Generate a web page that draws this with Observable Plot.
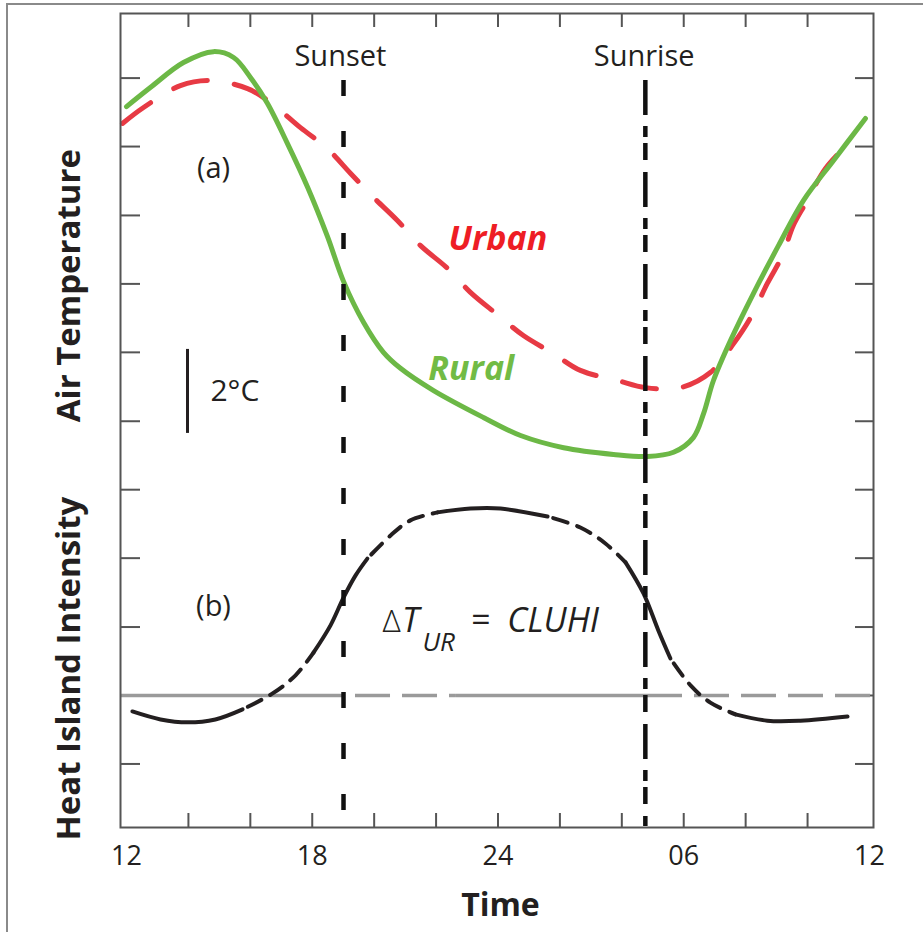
<!DOCTYPE html>
<html><head><meta charset="utf-8">
<script src="https://cdn.jsdelivr.net/npm/d3@7"></script>
<script src="https://cdn.jsdelivr.net/npm/@observablehq/plot@0.6"></script>
<style>
body{margin:0;background:#fff;}
#wrap{position:relative;width:923px;height:932px;overflow:hidden;background:#fff;}
#chart svg{display:block;}
#border{position:absolute;left:6px;top:3px;width:2000px;height:2000px;border-left:2px solid #8a8a8a;border-top:2px solid #8a8a8a;pointer-events:none;}
</style></head>
<body><div id="wrap"><div id="chart"></div><div id="border"></div></div>
<script>
// ---- Data (x: hour of day, continuing past midnight; y: °C, heat-island zero at baseline) ----
const ruralHours = [12.0,12.78,13.84,14.81,15.46,16.01,16.55,17.20,17.85,18.49,19.01,19.66,20.30,20.85,21.92,23.53,24.73,26.12,27.73,28.83,29.67,30.31,30.64,30.96,31.51,32.25,33.06,33.87,34.84,35.87];
const ruralTemp  = [14.02,14.48,15.07,15.33,15.19,14.71,14.10,13.14,12.10,10.93,9.86,8.88,8.17,7.79,7.26,6.62,6.19,5.90,5.74,5.69,5.79,6.14,6.71,7.5,8.45,9.57,10.71,11.79,12.74,13.74];

const urbanHours = [11.87,12.55,13.74,14.71,15.91,16.65,17.62,18.49,19.24,19.98,20.75,21.50,22.37,23.11,23.98,24.82,25.79,26.66,27.86,28.76,29.89,30.86,31.61,32.16,32.70,33.19,33.54,33.93,34.58,35.26];
const urbanTemp  = [13.62,14.0,14.52,14.64,14.45,14.12,13.52,13.02,12.43,11.86,11.31,10.71,10.17,9.60,9.07,8.57,8.14,7.74,7.5,7.33,7.33,7.69,8.38,9.0,9.81,10.48,11.19,11.71,12.55,13.1];

const uhiHours = [12.19,13.10,13.97,14.87,15.75,16.72,17.46,18.04,18.59,19.01,19.40,19.78,20.53,21.17,22.05,23.11,24.08,25.60,26.66,27.47,28.12,28.70,29.18,29.57,30.22,30.86,31.67,32.70,33.77,35.29];
const uhiValue = [-0.38,-0.57,-0.64,-0.57,-0.33,0.05,0.48,1.02,1.67,2.33,2.86,3.26,3.81,4.17,4.36,4.45,4.45,4.26,4.0,3.62,3.17,2.43,1.55,0.88,0.24,-0.17,-0.45,-0.60,-0.60,-0.50];
// segments of the UHI curve: solid / dashed pieces
const uhiSegFrom   = [12.19,15.75,18.04,19.78,22.05,25.60,28.12,29.57,31.67];
const uhiSegTo     = [15.75,18.04,19.78,22.05,25.60,28.12,29.57,31.67,35.29];
const uhiSegDashed = [false,true,false,true,false,true,false,true,false];

// zero line segments
const zeroFrom   = [11.806,19.01,22.63,29.96];
const zeroTo     = [19.01,22.63,29.96,36.13];
const zeroDashed = [false,true,false,true];

const eventNames = ["Sunset","Sunrise"];
const eventHours = [19.01,28.76];

const xTickHours  = [14,16,18,20,22,24,26,28,30,32,34];
const xLabelHours = [12,18,24,30,36];
const xLabelTexts = ["12","18","24","06","12"];
const yTicks = [-1.63,0,1.63,3.27,4.9,6.53,8.17,9.8,11.43,13.07,14.7];

const xDomain = [11.806,36.13];
const yDomain = [-3.143,16.238];

// annotation placements (data coordinates)
const scaleBar = [{hour:13.97, low:6.24, high:8.24}];
const notes = [
  {text:"Sunset",  hour:18.91, value:14.98},
  {text:"Sunrise", hour:28.72, value:14.98},
  {text:"(a)",     hour:14.81, value:12.31},
  {text:"(b)",     hour:14.81, value:1.90}
];

// ---- Build tables ----
const rural = ruralHours.map((h,i)=>({hour:h, temp:ruralTemp[i]}));
const urban = urbanHours.map((h,i)=>({hour:h, temp:urbanTemp[i]}));
const uhiPts = [];
uhiSegFrom.forEach((f,s)=>{
  uhiHours.forEach((h,i)=>{
    if (h>=f-1e-9 && h<=uhiSegTo[s]+1e-9) uhiPts.push({hour:h, value:uhiValue[i], seg:s, dashed:uhiSegDashed[s]});
  });
});
const zeroSegs = zeroFrom.map((f,i)=>({x1:f, x2:zeroTo[i], dashed:zeroDashed[i]}));

const W=923, H=932, mL=120, mR=50, mT=13, mB=105;
const plotW = W-mL-mR, plotH = H-mT-mB;
const ink = "#231f20", tickColor = "#555";
const green = "#6cb846", red = "#e73a44";

const chart = Plot.plot({
  width:W, height:H, marginLeft:mL, marginRight:mR, marginTop:mT, marginBottom:mB,
  x:{domain:xDomain, axis:null},
  y:{domain:yDomain, axis:null},
  style:{fontFamily:"'Open Sans', sans-serif", background:"#fff", overflow:"visible", color:ink},
  marks:[
    // ticks (inward)
    Plot.ruleX(xTickHours, {x:d=>d, insetTop:plotH-14, stroke:tickColor, strokeWidth:2}),
    Plot.ruleX(xTickHours, {x:d=>d, insetBottom:plotH-14, stroke:tickColor, strokeWidth:2}),
    Plot.ruleY(yTicks, {y:d=>d, insetRight:plotW-20, stroke:tickColor, strokeWidth:2}),
    Plot.ruleY(yTicks, {y:d=>d, insetLeft:plotW-18, stroke:tickColor, strokeWidth:2}),
    // zero line
    Plot.ruleY(zeroSegs.filter(d=>!d.dashed), {y:0, x1:"x1", x2:"x2", stroke:"#9a9a9a", strokeWidth:3.5}),
    Plot.ruleY(zeroSegs.filter(d=>d.dashed), {y:0, x1:"x1", x2:"x2", stroke:"#9a9a9a", strokeWidth:3.5, strokeDasharray:"35,12", strokeDashoffset:35}),
    // heat island intensity curve
    Plot.line(uhiPts.filter(d=>!d.dashed), {x:"hour", y:"value", z:"seg", curve:"catmull-rom", stroke:ink, strokeWidth:4}),
    Plot.line(uhiPts.filter(d=>d.dashed), {x:"hour", y:"value", z:"seg", curve:"catmull-rom", stroke:ink, strokeWidth:4, strokeDasharray:"15,10", strokeDashoffset:19}),
    // urban & rural
    Plot.line(urban, {x:"hour", y:"temp", curve:"catmull-rom", stroke:red, strokeWidth:5, strokeDasharray:"35,27"}),
    Plot.line(rural, {x:"hour", y:"temp", curve:"catmull-rom", stroke:green, strokeWidth:5}),
    // sunset / sunrise lines
    Plot.ruleX([eventHours[0]], {x:d=>d, insetTop:67, insetBottom:15, stroke:"#111", strokeWidth:4.5, strokeDasharray:"16,35"}),
    Plot.ruleX([eventHours[1]], {x:d=>d, insetTop:67, insetBottom:1, stroke:"#111", strokeWidth:4.5, strokeDasharray:"35,11,11,6,17,12"}),
    // frame
    Plot.frame({stroke:tickColor, strokeWidth:2}),
    // scale bar
    Plot.ruleX(scaleBar, {x:"hour", y1:"low", y2:"high", stroke:ink, strokeWidth:3}),
    Plot.text(["2°C"], {x:14.71, y:7.02, text:d=>d, textAnchor:"start", lineAnchor:"bottom", fontSize:30, fill:ink}),
    // notes
    Plot.text(notes, {x:"hour", y:"value", text:"text", textAnchor:"middle", lineAnchor:"bottom", fontSize:29, fill:ink}),
    Plot.text(["Urban"], {x:22.40, y:10.6, text:d=>d, textAnchor:"start", lineAnchor:"bottom", fontSize:34, fontWeight:"bold", fontStyle:"italic", fill:"#ee1d25"}),
    Plot.text(["Rural"], {x:21.75, y:7.5, text:d=>d, textAnchor:"start", lineAnchor:"bottom", fontSize:34, fontWeight:"bold", fontStyle:"italic", fill:"#72bb45"}),
    // ΔT_UR = CLUHI
    Plot.text(["Δ"], {x:20.27, y:1.5, text:d=>d, textAnchor:"start", lineAnchor:"bottom", fontSize:32, fontWeight:300, fill:ink}),
    Plot.text(["T"], {x:20.90, y:1.5, text:d=>d, textAnchor:"start", lineAnchor:"bottom", fontSize:34, fontStyle:"italic", fill:ink}),
    Plot.text(["UR"], {x:21.56, y:1.07, text:d=>d, textAnchor:"start", lineAnchor:"bottom", fontSize:26, fontStyle:"italic", fill:ink}),
    Plot.text(["="], {x:23.11, y:1.5, text:d=>d, textAnchor:"start", lineAnchor:"bottom", fontSize:34, fontStyle:"italic", fill:ink}),
    Plot.text(["CLUHI"], {x:24.30, y:1.5, text:d=>d, textAnchor:"start", lineAnchor:"bottom", fontSize:34, fontStyle:"italic", fill:ink}),
    // x tick labels
    Plot.text(xLabelHours, {x:d=>d, text:(d,i)=>xLabelTexts[i], frameAnchor:"bottom", dy:37, textAnchor:"middle", lineAnchor:"bottom", fontSize:27, fill:ink}),
    // axis titles
    Plot.text(["Time"], {x:24.08, y:-5.24, text:d=>d, textAnchor:"middle", lineAnchor:"bottom", fontSize:32, fontWeight:"bold", fill:ink}),
    Plot.text(["Air Temperature"], {x:10.51, y:9.76, text:d=>d, rotate:-90, textAnchor:"middle", lineAnchor:"bottom", fontSize:33, fontWeight:"bold", fill:ink}),
    Plot.text(["Heat Island Intensity"], {x:10.51, y:0.64, text:d=>d, rotate:-90, textAnchor:"middle", lineAnchor:"bottom", fontSize:33, fontWeight:"bold", fill:ink})
  ]
});
document.getElementById("chart").appendChild(chart);
</script>
</body></html>
